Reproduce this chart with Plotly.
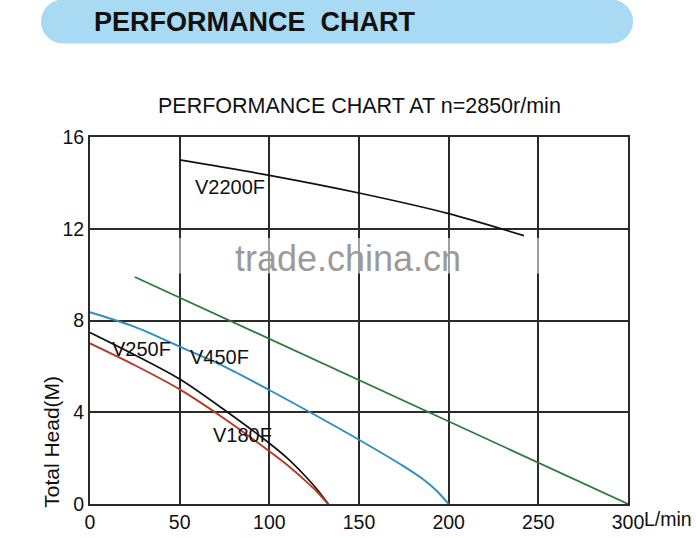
import plotly.graph_objects as go

# ---------------- data ----------------
flow_v2200f = [50, 100, 150, 200, 242]
head_v2200f = [15.0, 14.33, 13.56, 12.66, 11.7]

flow_green = [25, 300]
head_green = [9.9, 0]

flow_v450f = [0, 25, 50, 75, 100, 125, 150, 175, 185, 193, 200]
head_v450f = [8.36, 7.72, 6.86, 5.99, 4.97, 3.9, 2.8, 1.64, 1.12, 0.6, 0]

flow_v250f = [0, 25, 50, 75, 100, 110, 120, 127, 132.9]
head_v250f = [7.48, 6.5, 5.45, 4.1, 2.65, 2.0, 1.22, 0.6, 0]

flow_v180f = [0, 25, 50, 75, 100, 110, 120, 127, 132.7]
head_v180f = [7.0, 6.05, 5.0, 3.72, 2.3, 1.7, 1.02, 0.5, 0]

x_ticks = [0, 50, 100, 150, 200, 250, 300]
x_ticktext = ["0", "50", "100", "150", "200", "250", "300"]
y_ticks = [0, 4, 8, 12, 16]

# ---------------- layout geometry ----------------
W, H = 696, 538
L, R, T, B = 90, 628, 136.7, 504.3


def px(x):
    return (x - L) / (R - L)


def py(y):
    return (B - y) / (B - T)


FONT = "Liberation Sans, Arial, sans-serif"

fig = go.Figure()

fig.add_trace(go.Scatter(x=flow_v2200f, y=head_v2200f, mode="lines", name="V2200F",
                         line=dict(color="#111111", width=1.7, shape="spline", smoothing=0.8)))
fig.add_trace(go.Scatter(x=flow_green, y=head_green, mode="lines", name="green",
                         line=dict(color="#2a7a3c", width=1.7)))
fig.add_trace(go.Scatter(x=flow_v450f, y=head_v450f, mode="lines", name="V450F",
                         line=dict(color="#2b8fc3", width=1.9, shape="spline", smoothing=0.8)))
fig.add_trace(go.Scatter(x=flow_v250f, y=head_v250f, mode="lines", name="V250F",
                         line=dict(color="#111111", width=1.7, shape="spline", smoothing=0.8)))
fig.add_trace(go.Scatter(x=flow_v180f, y=head_v180f, mode="lines", name="V180F",
                         line=dict(color="#b53a22", width=1.9, shape="spline", smoothing=0.8)))

# header pill path (rounded ends)
pl, pr, pt, pb = 41, 633, -1, 43
r = (pb - pt) / 2
k = 0.5523 * r
cy = (pt + pb) / 2


def P(x, y):
    return f"{px(x):.5f},{py(y):.5f}"


pill = (f"M {P(pl + r, pt)} L {P(pr - r, pt)} "
        f"C {P(pr - r + k, pt)} {P(pr, cy - k)} {P(pr, cy)} "
        f"C {P(pr, cy + k)} {P(pr - r + k, pb)} {P(pr - r, pb)} "
        f"L {P(pl + r, pb)} "
        f"C {P(pl + r - k, pb)} {P(pl, cy + k)} {P(pl, cy)} "
        f"C {P(pl, cy - k)} {P(pl + r - k, pt)} {P(pl + r, pt)} Z")

shapes = [
    dict(type="path", xref="paper", yref="paper", path=pill,
         fillcolor="#a9daf3", line=dict(width=0), layer="above"),
    # faded band behind watermark
    dict(type="rect", xref="paper", yref="y", x0=0, x1=1, y0=10.05, y1=11.6,
         fillcolor="white", opacity=0.55, line=dict(width=0), layer="above"),
]

LBL = 20

annotations = [
    dict(text="PERFORMANCE  CHART", xref="paper", yref="paper", x=px(92), y=py(22),
         xanchor="left", yanchor="middle", showarrow=False,
         font=dict(family=FONT, size=27, color="#111111", weight="bold")),
    dict(text="PERFORMANCE CHART AT n=2850r/min", xref="paper", yref="paper",
         x=px(359), y=py(106), xanchor="center", yanchor="middle", showarrow=False,
         font=dict(family=FONT, size=21.5, color="#111111")),
    dict(text="trade.china.cn", xref="paper", yref="paper", x=px(348), y=py(258),
         xanchor="center", yanchor="middle", showarrow=False,
         font=dict(family=FONT, size=36, color="#9b9b9b")),
    dict(text="V2200F", x=78, y=13.8, showarrow=False, xanchor="center", yanchor="middle",
         font=dict(family=FONT, size=LBL, color="#111111")),
    dict(text="V250F", x=28.8, y=6.75, showarrow=False, xanchor="center", yanchor="middle",
         font=dict(family=FONT, size=LBL, color="#111111")),
    dict(text="V450F", x=72, y=6.43, showarrow=False, xanchor="center", yanchor="middle",
         font=dict(family=FONT, size=LBL, color="#111111")),
    dict(text="V180F", x=85.2, y=3.02, showarrow=False, xanchor="center", yanchor="middle",
         font=dict(family=FONT, size=LBL, color="#111111")),
    dict(text="L/min", xref="paper", yref="paper", x=px(642), y=py(519),
         xanchor="left", yanchor="middle", showarrow=False,
         font=dict(family=FONT, size=19.5, color="#111111")),
    dict(text="Total Head(M)", xref="paper", yref="paper", x=px(52), y=py(442),
         xanchor="center", yanchor="middle", textangle=-90, showarrow=False,
         font=dict(family=FONT, size=21, color="#111111")),
]

fig.update_layout(
    width=W, height=H,
    margin=dict(l=L, r=W - R, t=T, b=H - B, pad=0, autoexpand=False),
    paper_bgcolor="white", plot_bgcolor="white",
    showlegend=False,
    shapes=shapes,
    annotations=annotations,
    font=dict(family=FONT, color="#111111"),
    xaxis=dict(range=[0, 300], tickvals=x_ticks, ticktext=x_ticktext,
               showgrid=True, gridcolor="#2a2a2a", gridwidth=1.5,
               showline=True, linecolor="#2a2a2a", linewidth=2, mirror=True,
               zeroline=False, ticks="", tickfont=dict(size=19.5, color="#111111"),
               automargin=False, fixedrange=True),
    yaxis=dict(range=[0, 16], tickvals=y_ticks,
               showgrid=True, gridcolor="#2a2a2a", gridwidth=1.5,
               showline=True, linecolor="#2a2a2a", linewidth=2, mirror=True,
               zeroline=False, ticks="", tickfont=dict(size=19.5, color="#111111"),
               automargin=False, fixedrange=True),
)

fig.write_html(
    "out.html",
    config={"displayModeBar": False},
    post_script="document.documentElement.style.margin='0';"
                "document.body.style.margin='0';document.body.style.padding='0';"
                "document.body.style.overflow='hidden';",
)
